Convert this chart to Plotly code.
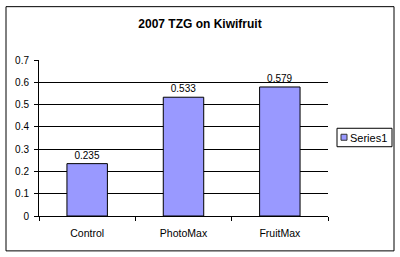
import plotly.graph_objects as go

categories = ["Control", "PhotoMax", "FruitMax"]
values = [0.235, 0.533, 0.579]
value_labels = ["0.235", "0.533", "0.579"]
y_ticks = [0, 0.1, 0.2, 0.3, 0.4, 0.5, 0.6, 0.7]
y_tick_labels = ["0", "0.1", "0.2", "0.3", "0.4", "0.5", "0.6", "0.7"]
series_name = "Series1"
title_text = "2007 TZG on Kiwifruit"
bar_color = "#9999FF"

FONT = "Arial, Liberation Sans, sans-serif"

fig = go.Figure()
fig.add_trace(go.Bar(
    x=categories, y=values, name=series_name,
    text=value_labels, textposition="outside", cliponaxis=False,
    textfont=dict(family=FONT, size=10, color="black"),
    marker=dict(color=bar_color, line=dict(color="black", width=1)),
    showlegend=False,
))

W, H = 400, 257
L, R, T, B = 39, 328, 59.5, 216
pw, ph = R - L, B - T

def px_x(x):
    return (x - L) / pw

def px_y(y):
    return (B - y) / ph

shapes = [
    # outer chart border
    dict(type="rect", xref="paper", yref="paper",
         x0=px_x(6), x1=px_x(394), y0=px_y(251), y1=px_y(6),
         line=dict(color="black", width=1), fillcolor="rgba(0,0,0,0)", layer="below"),
    # legend box
    dict(type="rect", xref="paper", yref="paper",
         x0=px_x(337), x1=px_x(392), y0=px_y(146.5), y1=px_y(128),
         line=dict(color="black", width=1), fillcolor="white", layer="above"),
    # legend swatch
    dict(type="rect", xref="paper", yref="paper",
         x0=px_x(341), x1=px_x(347), y0=px_y(140), y1=px_y(134),
         line=dict(color="#333333", width=1), fillcolor=bar_color, layer="above"),
]

annotations = [
    dict(text=series_name, xref="paper", yref="paper",
         x=px_x(348), y=px_y(137.5), xanchor="left", yanchor="middle",
         showarrow=False, font=dict(family=FONT, size=11, color="black")),
]

fig.update_layout(
    width=W, height=H,
    margin=dict(l=L, r=W - R, t=T, b=H - B, pad=0),
    paper_bgcolor="white", plot_bgcolor="white",
    font=dict(family=FONT, size=10, color="black"),
    title=dict(text="<b>" + title_text + "</b>", x=0.5, xanchor="center",
               y=1 - 24 / H, yanchor="middle", yref="container",
               font=dict(family=FONT, size=12, color="black")),
    bargap=0.58,
    showlegend=False,
    xaxis=dict(showline=True, linecolor="black", linewidth=1,
               ticks="outside", tickson="boundaries", ticklen=4, tickcolor="black",
               showgrid=False, ticklabelstandoff=7,
               tickfont=dict(family=FONT, size=10.5, color="black")),
    yaxis=dict(range=[0, 0.7], tickvals=y_ticks, ticktext=y_tick_labels,
               showline=True, linecolor="black", linewidth=1,
               ticks="outside", ticklen=4, tickcolor="black",
               showgrid=True, gridcolor="black", gridwidth=1,
               zeroline=False, ticklabelstandoff=3,
               tickfont=dict(family=FONT, size=10, color="black")),
    shapes=shapes,
    annotations=annotations,
)

fig.write_html("out.html")
